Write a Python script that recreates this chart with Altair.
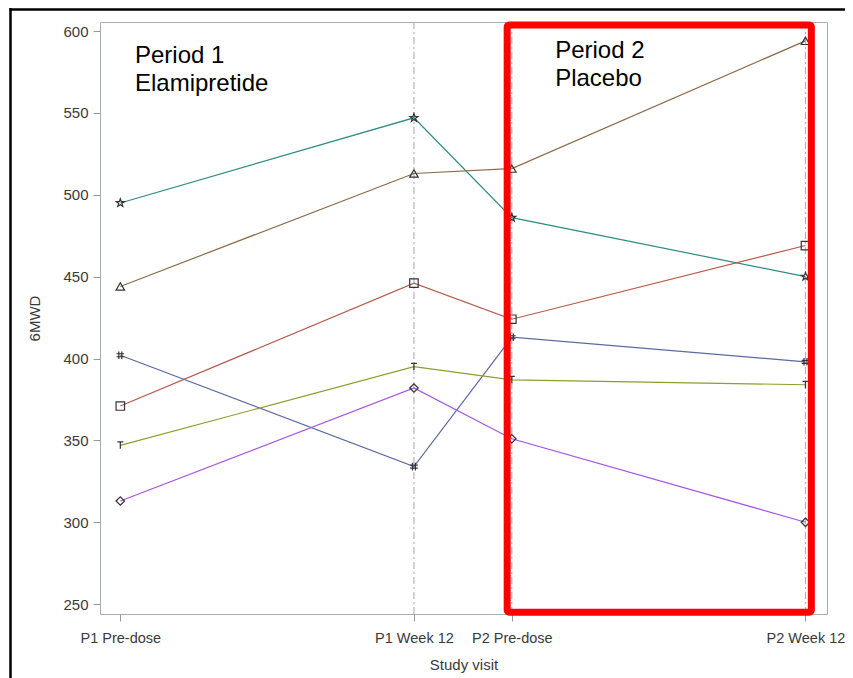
import altair as alt
import pandas as pd

# ---- data -------------------------------------------------------------
visit_weeks = [0, 12, 16, 28]
visit_labels = ["P1 Pre-dose", "P1 Week 12", "P2 Pre-dose", "P2 Week 12"]

subjects = ["Subject 1", "Subject 2", "Subject 3", "Subject 4", "Subject 5", "Subject 6"]
subject_values = [
    [495, 547, 486, 450],   # teal, star
    [444, 513, 516, 594],   # brown, triangle
    [371, 446, 424, 469],   # red, square
    [402, 334, 413, 398],   # blue, hash
    [347, 395, 387, 384],   # olive, tack
    [313, 382, 351, 300],   # purple, diamond
]
subject_colors = ["#2E8B84", "#8B6B4A", "#B8594E", "#5A69A3", "#8E9D2C", "#A554E6"]
subject_shapes = [
    "M0,-1L0.235,-0.324L0.951,-0.309L0.38,0.124L0.588,0.809L0,0.4L-0.588,0.809L-0.38,0.124L-0.951,-0.309L-0.235,-0.324Z",
    "triangle-up",
    "square",
    "M-0.35,-0.9L-0.35,0.9M0.35,-0.9L0.35,0.9M-0.9,-0.35L0.9,-0.35M-0.9,0.35L0.9,0.35",
    "M-0.7,-0.8L0.7,-0.8M0,-0.8L0,0.8",
    "diamond",
]

refline_weeks = [12, 16, 28]

# annotation texts (data units: weeks / 6MWD)
ann_text = ["Period 1\nElamipretide", "Period 2\nPlacebo"]
ann_week = [0.6, 17.77]
ann_value = [580.5, 583.5]

# highlight box for period 2 (data units)
box_x = [15.81]
box_x2 = [28.24]
box_y = [245.1]
box_y2 = [603.7]

x_domain = [-0.83, 28.88]
y_domain = [244, 605.5]
y_ticks = [250, 300, 350, 400, 450, 500, 550, 600]

# ---- tables -----------------------------------------------------------
rows = []
for s, vals in zip(subjects, subject_values):
    for w, v in zip(visit_weeks, vals):
        rows.append({"subject": s, "week": w, "mwd": v})
df = pd.DataFrame(rows)

ann_df = pd.DataFrame({"text": ann_text, "week": ann_week, "mwd": ann_value})
box_df = pd.DataFrame({"x": box_x, "x2": box_x2, "y": box_y, "y2": box_y2})
ref_df = pd.DataFrame({"week": refline_weeks})

label_expr = " : ".join(
    f"datum.value == {w} ? '{l}'" for w, l in zip(visit_weeks, visit_labels)
) + " : ''"

W, H = 727, 592
PAD = {"left": 92, "top": 14, "right": 18, "bottom": 64}
FONT = "Liberation Sans"

xscale = alt.Scale(domain=x_domain, nice=False, zero=False)
yscale = alt.Scale(domain=y_domain, nice=False, zero=False)

x_axis = alt.Axis(
    values=visit_weeks, labelExpr=label_expr, title="Study visit",
    grid=False, domain=False, tickSize=7, tickColor="#9a9a9a",
    labelPadding=10, labelFlush=False, labelOverlap=False, titlePadding=13,
    labelFontSize=14.5,
)
y_axis = alt.Axis(
    values=y_ticks, title="6MWD", grid=False, domain=False, tickSize=7,
    tickColor="#9a9a9a", labelPadding=5, titlePadding=20,
)

color = alt.Color("subject:N", scale=alt.Scale(domain=subjects, range=subject_colors), legend=None)
shape = alt.Shape("subject:N", scale=alt.Scale(domain=subjects, range=subject_shapes), legend=None)

refs = alt.Chart(ref_df).mark_rule(
    color="#b4b4b4", strokeWidth=1.2, strokeDash=[7, 3, 2, 3]
).encode(x=alt.X("week:Q", scale=xscale, axis=x_axis))

lines = alt.Chart(df).mark_line(strokeWidth=1.2).encode(
    x=alt.X("week:Q", scale=xscale, axis=x_axis),
    y=alt.Y("mwd:Q", scale=yscale, axis=y_axis),
    color=color,
    detail="subject:N",
)

points = alt.Chart(df).mark_point(
    filled=False, stroke="#333333", strokeWidth=1.2, size=72, opacity=1
).encode(
    x=alt.X("week:Q", scale=xscale),
    y=alt.Y("mwd:Q", scale=yscale),
    shape=shape,
)

box = alt.Chart(box_df).mark_rect(
    fillOpacity=0, stroke="#ff0000", strokeWidth=7, cornerRadius=2
).encode(
    x=alt.X("x:Q", scale=xscale), x2="x2:Q",
    y=alt.Y("y:Q", scale=yscale), y2="y2:Q",
)

ann = alt.Chart(ann_df).mark_text(
    align="left", baseline="alphabetic", fontSize=24, font=FONT,
    color="#000000", lineBreak="\n", lineHeight=28,
).encode(
    x=alt.X("week:Q", scale=xscale),
    y=alt.Y("mwd:Q", scale=yscale),
    text="text:N",
)

frame_src = alt.Data(values=[{"k": 1}])
left_border = alt.Chart(frame_src).mark_rule(color="#000000", strokeWidth=2.5).encode(
    x=alt.value(-89.5), y=alt.value(-PAD["top"]), y2=alt.value(H + PAD["bottom"])
)
top_border = alt.Chart(frame_src).mark_rule(color="#000000", strokeWidth=2.5).encode(
    x=alt.value(-90.5), x2=alt.value(W + PAD["right"]), y=alt.value(-12.5)
)

chart = alt.layer(refs, lines, points, box, ann, left_border, top_border).properties(
    width=W, height=H,
    autosize=alt.AutoSizeParams(type="none"),
    padding=PAD,
).configure_view(
    stroke="#a7adb1", strokeWidth=1
).configure_axis(
    labelFont=FONT, titleFont=FONT, labelFontSize=15, titleFontSize=15,
    labelColor="#3a3a3a", titleColor="#3a3a3a", titleFontWeight="normal",
)

chart.save("out.html", embed_options={"renderer": "svg", "actions": False})
